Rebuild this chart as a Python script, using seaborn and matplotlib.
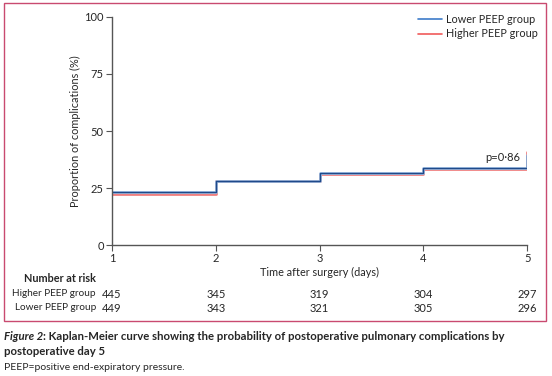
import matplotlib
matplotlib.use("Agg")
import matplotlib.pyplot as plt
import seaborn as sns
import pandas as pd
from matplotlib.lines import Line2D
from matplotlib.patches import Rectangle

# step curves (day, % with complications); last pair is the final vertical jump at day 5
lower_days = [1, 2, 3, 4, 5, 5]
lower_pct = [23.4, 28.2, 31.7, 34.0, 34.0, 39.5]
higher_days = [1, 2, 3, 4, 5, 5]
higher_pct = [22.5, 27.9, 31.3, 33.2, 33.2, 41.0]

risk_days = [1, 2, 3, 4, 5]
risk_higher = [445, 345, 319, 304, 297]
risk_lower = [449, 343, 321, 305, 296]

sns.set_style("ticks")
plt.rcParams["font.family"] = ["Lato", "DejaVu Sans"]

fig = plt.figure(figsize=(5.52, 3.76), dpi=100)
ax = fig.add_axes([0.203, 0.348, 0.752, 0.607])

df_hi = pd.DataFrame({"day": higher_days, "pct": higher_pct})
df_lo = pd.DataFrame({"day": lower_days, "pct": lower_pct})

sns.lineplot(data=df_hi, x="day", y="pct", estimator=None, sort=False,
             drawstyle="steps-post", color="#f08080", lw=2.0, ax=ax)
sns.lineplot(data=df_lo, x="day", y="pct", estimator=None, sort=False,
             drawstyle="steps-post", color="#9fc0e6", lw=2.0, ax=ax)
sns.lineplot(data=df_lo, x="day", y="pct", estimator=None, sort=False,
             drawstyle="steps-post", color="#1f4a8a", lw=1.0, ax=ax)

ax.set_xlim(1, 5)
ax.set_ylim(0, 100)
ax.set_xticks(risk_days)
ax.set_yticks([0, 25, 50, 75, 100])
ax.tick_params(labelsize=8, length=4, width=0.8, color="#555555", pad=2)
for s in ["top", "right"]:
    ax.spines[s].set_visible(False)
for s in ["left", "bottom"]:
    ax.spines[s].set_color("#555555")
    ax.spines[s].set_linewidth(1.0)
ax.set_xlabel("Time after surgery (days)", fontsize=7.8, labelpad=2)
ax.set_ylabel("Proportion of complications (%)", fontsize=7.8, labelpad=2)

ax.text(4.93, 35.8, "p=0·86", ha="right", va="bottom", fontsize=8)

handles = [Line2D([], [], color="#3d7cc9", lw=1.2),
           Line2D([], [], color="#f05a5a", lw=1.2)]
ax.legend(handles, ["Lower PEEP group", "Higher PEEP group"], loc="upper right",
          bbox_to_anchor=(1.05, 1.055), frameon=False, fontsize=7.8,
          handlelength=2.2, handletextpad=0.4, labelspacing=0.3)

# number at risk table
tr = ax.get_xaxis_transform()
fig.text(96 / 552, 1 - 279 / 376, "Number at risk", ha="right", va="center",
         fontsize=7.8, fontweight="bold")
fig.text(96 / 552, 1 - 294 / 376, "Higher PEEP group", ha="right", va="center", fontsize=7.2)
fig.text(96 / 552, 1 - 308 / 376, "Lower PEEP group", ha="right", va="center", fontsize=7.2)
y_hi = (294 - 17) / -228 + 1
y_lo = (308 - 17) / -228 + 1
for d, h, l in zip(risk_days, risk_higher, risk_lower):
    ax.text(d, y_hi, str(h), transform=tr, ha="center", va="center", fontsize=8, clip_on=False)
    ax.text(d, y_lo, str(l), transform=tr, ha="center", va="center", fontsize=8, clip_on=False)

# frame around the figure panel
fig.patches.append(Rectangle((4 / 552, 1 - 321 / 376), 542 / 552, 318 / 376,
                             transform=fig.transFigure, fill=False,
                             edgecolor="#c94a70", lw=1.0))

# caption
t1 = fig.text(4 / 552, 1 - 340 / 376, "Figure 2", fontsize=8.2, fontweight="bold",
              style="italic", va="baseline", ha="left")
fig.canvas.draw()
bb = t1.get_window_extent()
fig.text(bb.x1 / fig.bbox.width, 1 - 340 / 376,
         ": Kaplan-Meier curve showing the probability of postoperative pulmonary complications by",
         fontsize=8.2, fontweight="bold", va="baseline", ha="left")
fig.text(4 / 552, 1 - 355 / 376, "postoperative day 5", fontsize=8.2, fontweight="bold",
         va="baseline", ha="left")
fig.text(4 / 552, 1 - 370 / 376, "PEEP=positive end-expiratory pressure.", fontsize=7.5,
         va="baseline", ha="left")

fig.savefig("out.png", dpi=100, facecolor="white")
